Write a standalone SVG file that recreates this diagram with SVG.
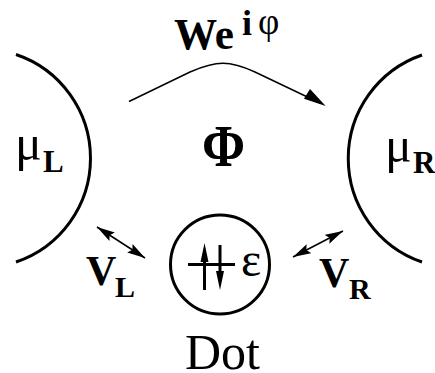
<svg xmlns="http://www.w3.org/2000/svg" width="435" height="373" viewBox="0 0 435 373">
<style>
text{font-family:"Liberation Serif","Times New Roman",serif;fill:#000}
.b{font-weight:bold}
.arc{fill:none;stroke:#000;stroke-width:3}
.thin{fill:none;stroke:#000;stroke-width:1.5}
.bar{fill:none;stroke:#000;stroke-width:3}
.head{fill:#000}
</style>
<defs>
<marker id="a" markerUnits="userSpaceOnUse" markerWidth="20" markerHeight="12" refX="18" refY="6" orient="auto-start-reverse"><path d="M0 1 L18 6 L0 11 L3 6Z" fill="#000"/></marker>
</defs>
<rect width="435" height="373" fill="#fff"/>
<g id="connectors">
<path class="thin" d="M129 101.500 L190 72 Q210 63.300 223 63.300 Q236 63.300 255 72 L320 103"/>
<path class="head" d="M325.700 106 L304 98.700 L310 89Z"/>
<path class="thin" marker-start="url(#a)" marker-end="url(#a)" d="M97 227 L145 258"/>
<path class="thin" marker-start="url(#a)" marker-end="url(#a)" d="M343 231 L293 257"/>
</g>
<g id="lead-left"><path class="arc" d="M16 54.500 A109.500 109.500 0 0 1 16 262"/>
<text x="15" y="160" font-size="50">μ</text><text class="b" x="43" y="172" font-size="31">L</text></g>
<g id="lead-right"><path class="arc" d="M422 55 A109.500 109.500 0 0 0 422 262"/>
<text x="385" y="162" font-size="50">μ</text><text class="b" x="413" y="173" font-size="31">R</text></g>
<g id="dot"><circle cx="220" cy="264.500" r="49.500" fill="none" stroke="#000" stroke-width="3"/>
<path class="bar" d="M188 264.500 H235 M204.500 290 V255 M220 245 V278"/>
<path class="head" d="M204.500 243 L208.500 262 L200.500 262Z M220 290 L216 271 L224 271Z"/>
<text x="241" y="276" font-size="48">ε</text>
<text x="185" y="369" font-size="50">Dot</text></g>
<g id="labels">
<text class="b" x="174" y="49" font-size="44" textLength="60" lengthAdjust="spacingAndGlyphs">We</text>
<text class="b" x="242" y="35" font-size="36">i</text>
<text x="258" y="33.500" font-size="37">φ</text>
<text class="b" transform="translate(202 166) scale(1 1.12)" font-size="52">Φ</text>
<text class="b" x="86" y="285" font-size="42">V</text><text class="b" x="115" y="297" font-size="30">L</text>
<text class="b" x="319" y="287" font-size="42">V</text><text class="b" x="349" y="299" font-size="30">R</text>
</g>
</svg>
